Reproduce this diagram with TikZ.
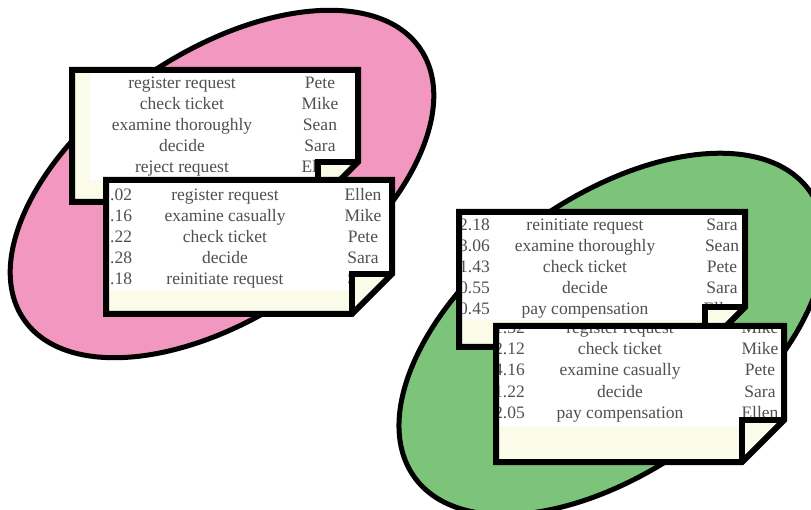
\documentclass[tikz,border=0pt]{standalone}
\usepackage{fontspec}
\setmainfont{Liberation Serif}

\definecolor{pinkfill}{RGB}{242,152,192}
\definecolor{greenfill}{RGB}{124,196,121}
\definecolor{cream}{RGB}{251,251,234}
\definecolor{inkgray}{RGB}{80,80,80}

\tikzset{
  blob/.style={draw=black, line width=5pt},
  sheet/.style={draw=black, line width=6pt, line join=miter},
  row/.style={inner sep=0pt, anchor=base, text=inkgray,
              font=\fontsize{17.5}{21}\selectfont},
  numr/.style={row, anchor=base east},
  numl/.style={row, anchor=base west},
}

% geometry of the current sheet: left, top, right, bottom, fold size
\newcommand\setsheet[5]{\def\docL{#1}\def\docT{#2}\def\docR{#3}\def\docB{#4}\def\docF{#5}}
\newcommand\sheetoutline[1]{\path[#1] (\docL,\docT) -- (\docR,\docT) -- (\docR,\docB-\docF)
  -- (\docR-\docF,\docB) -- (\docL,\docB) -- cycle;}
\newcommand\sheetclip{\clip (\docL,\docT) -- (\docR,\docT) -- (\docR,\docB-\docF)
  -- (\docR-\docF,\docB) -- (\docL,\docB) -- cycle;}
\newcommand\sheetflap{\path[sheet, fill=cream] (\docR-\docF,\docB) -- (\docR-\docF,\docB-\docF)
  -- (\docR,\docB-\docF);}

\begin{document}
\begin{tikzpicture}[x=1pt, y=-1pt]
\useasboundingbox (0,0) rectangle (811,510);
\clip (0,0) rectangle (811,510);

% ---------- pink log ----------
\path[blob, fill=pinkfill, rotate around={34.3:(222,184)}]
  (222,184) ellipse [x radius=240, y radius=132];

\setsheet{72}{70}{358}{202}{40}
\sheetoutline{fill=cream}
\begin{scope}
  \sheetclip
  \fill[white] (90,70) rectangle (358,180);
  \node[row] (a1) at (182,89)  {register request};   \node[row] (a1n) at (320,89)  {Pete};
  \node[row] (a2) at (182,110) {check ticket};       \node[row] (a2n) at (320,110) {Mike};
  \node[row] (a3) at (182,131) {examine thoroughly}; \node[row] (a3n) at (320,131) {Sean};
  \node[row] (a4) at (182,152) {decide};             \node[row] (a4n) at (320,152) {Sara};
  \node[row] (a5) at (182,173) {reject request};     \node[row] (a5n) at (320,173) {Ellen};
\end{scope}
\sheetflap
\sheetoutline{sheet}

\setsheet{106}{180}{392}{314}{40}
\sheetoutline{fill=cream}
\begin{scope}
  \sheetclip
  \fill[white] (106,180) rectangle (392,290);
  \node[numl] (b1t) at (110,201) {.02}; \node[row] (b1) at (225,201) {register request};   \node[row] (b1n) at (363,201) {Ellen};
  \node[numl] (b2t) at (110,222) {.16}; \node[row] (b2) at (225,222) {examine casually};   \node[row] (b2n) at (363,222) {Mike};
  \node[numl] (b3t) at (110,243) {.22}; \node[row] (b3) at (225,243) {check ticket};       \node[row] (b3n) at (363,243) {Pete};
  \node[numl] (b4t) at (110,264) {.28}; \node[row] (b4) at (225,264) {decide};             \node[row] (b4n) at (363,264) {Sara};
  \node[numl] (b5t) at (110,285) {.18}; \node[row] (b5) at (225,285) {reinitiate request}; \node[row] (b5n) at (363,285) {Sara};
\end{scope}
\sheetflap
\sheetoutline{sheet}

% ---------- green log ----------
\path[blob, fill=greenfill, rotate around={36:(612,334)}]
  (612,334) ellipse [x radius=244, y radius=136];

\setsheet{459}{212}{745}{347}{40}
\sheetoutline{fill=cream}
\begin{scope}
  \sheetclip
  \fill[white] (459,212) rectangle (745,320);
  \node[numr] (c1t) at (490,231) {2.18}; \node[row] (c1) at (585,231) {reinitiate request}; \node[row] (c1n) at (722,231) {Sara};
  \node[numr] (c2t) at (490,252) {3.06}; \node[row] (c2) at (585,252) {examine thoroughly}; \node[row] (c2n) at (722,252) {Sean};
  \node[numr] (c3t) at (490,273) {1.43}; \node[row] (c3) at (585,273) {check ticket};       \node[row] (c3n) at (722,273) {Pete};
  \node[numr] (c4t) at (490,294) {0.55}; \node[row] (c4) at (585,294) {decide};             \node[row] (c4n) at (722,294) {Sara};
  \node[numr] (c5t) at (490,315) {0.45}; \node[row] (c5) at (585,315) {pay compensation};   \node[row] (c5n) at (722,315) {Ellen};
\end{scope}
\sheetflap
\sheetoutline{sheet}

\setsheet{496}{326}{784}{462}{42}
\sheetoutline{fill=cream}
\begin{scope}
  \sheetclip
  \fill[white] (496,326) rectangle (784,426);
  \node[numr] (d1t) at (525,334) {1.32}; \node[row] (d1) at (620,334) {register request}; \node[row] (d1n) at (760,334) {Mike};
  \node[numr] (d2t) at (525,355) {2.12}; \node[row] (d2) at (620,355) {check ticket};     \node[row] (d2n) at (760,355) {Mike};
  \node[numr] (d3t) at (525,376) {4.16}; \node[row] (d3) at (620,376) {examine casually}; \node[row] (d3n) at (760,376) {Pete};
  \node[numr] (d4t) at (525,397) {1.22}; \node[row] (d4) at (620,397) {decide};           \node[row] (d4n) at (760,397) {Sara};
  \node[numr] (d5t) at (525,418) {2.05}; \node[row] (d5) at (620,418) {pay compensation}; \node[row] (d5n) at (760,418) {Ellen};
\end{scope}
\sheetflap
\sheetoutline{sheet}

\end{tikzpicture}
\end{document}
